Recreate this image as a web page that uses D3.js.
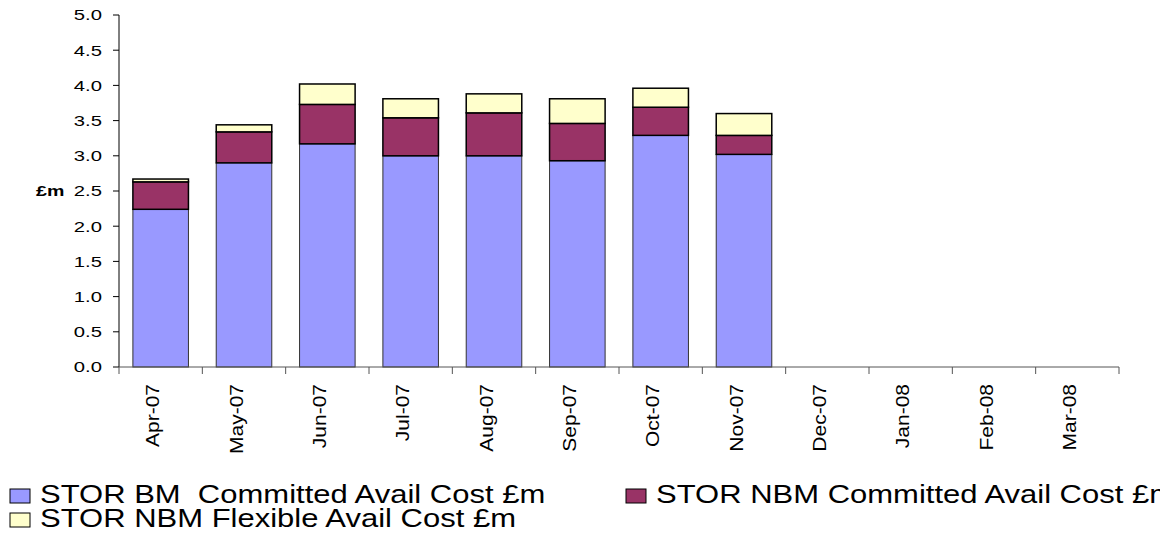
<!DOCTYPE html>
<html><head><meta charset="utf-8">
<script src="https://cdn.jsdelivr.net/npm/d3@7"></script>
<style>html,body{margin:0;padding:0;background:#fff;} text{font-family:"Liberation Sans",Arial,sans-serif;white-space:pre;}</style>
</head><body><svg id="c" width="1160" height="536"></svg>
<script>
const months = ["Apr-07","May-07","Jun-07","Jul-07","Aug-07","Sep-07","Oct-07","Nov-07","Dec-07","Jan-08","Feb-08","Mar-08"];
const bmCommitted  = [2.24,2.90,3.17,3.00,3.00,2.93,3.29,3.02,0,0,0,0];
const nbmCommitted = [0.39,0.44,0.56,0.54,0.61,0.53,0.40,0.27,0,0,0,0];
const nbmFlexible  = [0.04,0.10,0.29,0.27,0.27,0.35,0.27,0.31,0,0,0,0];
const seriesNames = ["STOR BM  Committed Avail Cost £m","STOR NBM Committed Avail Cost £m","STOR NBM Flexible Avail Cost £m"];
const seriesColors = ["#9999FF","#993366","#FFFFCC"];
const yTicks = [0,0.5,1,1.5,2,2.5,3,3.5,4,4.5,5];

const svg = d3.select("#c");
const X0=119, X1=1119, Y0=367, Y1=15;
const x = d3.scaleBand().domain(months).range([X0,X1]).paddingInner(1/3).paddingOuter(1/6);
const y = d3.scaleLinear().domain([0,5]).range([Y0,Y1]);

const rows = months.map((m,i)=>({m, a:bmCommitted[i], b:nbmCommitted[i], c:nbmFlexible[i]}));
const stack = d3.stack().keys(["a","b","c"])(rows);

stack.forEach((layer,k)=>{
  svg.append("g").selectAll("rect").data(layer.filter(d=>d[1]-d[0]>0)).join("rect")
    .attr("x",d=>x(d.data.m)).attr("width",x.bandwidth())
    .attr("y",d=>y(d[1])).attr("height",d=>y(d[0])-y(d[1]))
    .attr("fill",seriesColors[k]).attr("stroke",k===0?"#333":"#000").attr("stroke-width",k===0?1:1.5);
});

// y axis
const ya = svg.append("g");
ya.append("line").attr("x1",X0).attr("x2",X0).attr("y1",Y1).attr("y2",Y0).attr("stroke","#000");
yTicks.forEach(t=>{
  ya.append("line").attr("x1",X0-6).attr("x2",X0).attr("y1",y(t)).attr("y2",y(t)).attr("stroke","#000");
  ya.append("g").attr("transform",`translate(102,${y(t)}) scale(1.35,1)`)
    .append("text").attr("text-anchor","end").attr("dy","0.36em").attr("font-size",15).text(t.toFixed(1));
});
svg.append("g").attr("transform",`translate(36,${y(2.5)}) scale(1.4,1)`)
  .append("text").attr("dy","0.36em").attr("font-size",14).attr("font-weight","bold").text("£m");

// x axis
const xa = svg.append("g");
xa.append("line").attr("x1",X0).attr("x2",X1).attr("y1",Y0).attr("y2",Y0).attr("stroke","#555");
const step = x.step();
d3.range(months.length+1).forEach(i=>{
  const tx = X0 + i*step;
  xa.append("line").attr("x1",tx).attr("x2",tx).attr("y1",Y0).attr("y2",Y0+7).attr("stroke","#555");
});
months.forEach(m=>{
  const cx = x(m)+x.bandwidth()/2;
  xa.append("g").attr("transform",`translate(${cx-1.5},384) rotate(-90) scale(1.2,1)`)
    .append("text").attr("text-anchor","end").attr("font-size",17.5).text(m);
});

// legend
const leg = [
  {i:0, sx:10, ty:503},
  {i:1, sx:626, ty:503},
  {i:2, sx:10, ty:527}
];
leg.forEach(l=>{
  svg.append("rect").attr("x",l.sx).attr("y",l.ty-14).attr("width",20).attr("height",14)
    .attr("fill",seriesColors[l.i]).attr("stroke","#000").attr("stroke-width",1);
  svg.append("g").attr("transform",`translate(${l.sx+30},${l.ty}) scale(1.24,1)`)
    .append("text").attr("font-size",25).text(seriesNames[l.i]);
});
</script></body></html>
